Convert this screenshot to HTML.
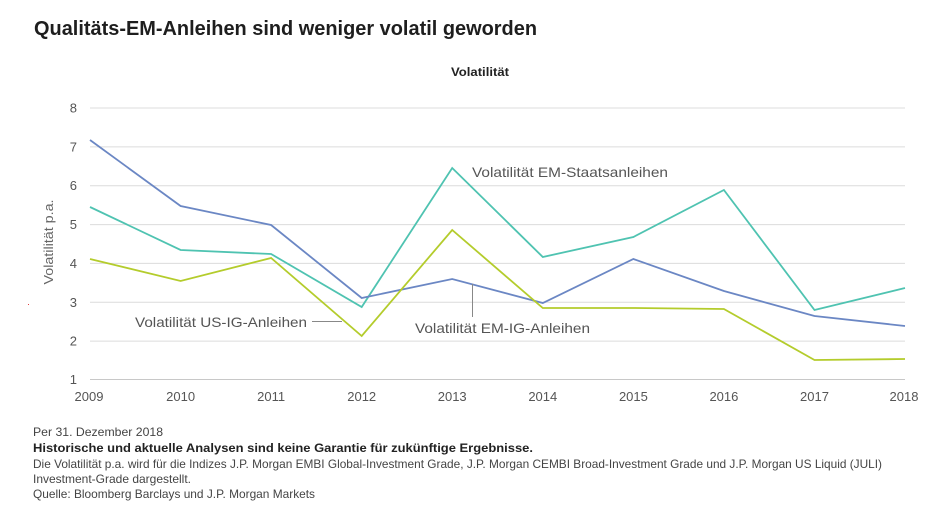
<!DOCTYPE html>
<html>
<head>
<meta charset="utf-8">
<style>
  html,body{margin:0;padding:0;background:#fff;}
  svg{display:block;}
  text{font-family:"Liberation Sans",sans-serif;}
</style>
</head>
<body>
<svg width="950" height="514" viewBox="0 0 950 514" xmlns="http://www.w3.org/2000/svg">
  <rect width="950" height="514" fill="#fff"/>
  <!-- Title -->
  <text x="34" y="35" font-size="20" font-weight="bold" fill="#1e1e1e" textLength="503" lengthAdjust="spacingAndGlyphs">Qualitäts-EM-Anleihen sind weniger volatil geworden</text>
  <text x="480" y="76" font-size="12" font-weight="bold" fill="#222" text-anchor="middle" textLength="58" lengthAdjust="spacingAndGlyphs">Volatilität</text>

  <!-- Gridlines -->
  <g stroke="#dcdcdc" stroke-width="1">
    <line x1="90" y1="108" x2="905" y2="108"/>
    <line x1="90" y1="146.9" x2="905" y2="146.9"/>
    <line x1="90" y1="185.7" x2="905" y2="185.7"/>
    <line x1="90" y1="224.6" x2="905" y2="224.6"/>
    <line x1="90" y1="263.4" x2="905" y2="263.4"/>
    <line x1="90" y1="302.3" x2="905" y2="302.3"/>
    <line x1="90" y1="341.1" x2="905" y2="341.1"/>
  </g>
  <line x1="90" y1="379.5" x2="905" y2="379.5" stroke="#c8c8c8" stroke-width="1"/>

  <!-- Y tick labels -->
  <g font-size="13" fill="#555" text-anchor="end">
    <text x="77" y="112.5">8</text>
    <text x="77" y="151.4">7</text>
    <text x="77" y="190.2">6</text>
    <text x="77" y="229.1">5</text>
    <text x="77" y="267.9">4</text>
    <text x="77" y="306.8">3</text>
    <text x="77" y="345.6">2</text>
    <text x="77" y="384">1</text>
  </g>

  <!-- X tick labels -->
  <g font-size="13" fill="#555" text-anchor="middle">
    <text x="89" y="401">2009</text>
    <text x="180.6" y="401">2010</text>
    <text x="271.1" y="401">2011</text>
    <text x="361.7" y="401">2012</text>
    <text x="452.2" y="401">2013</text>
    <text x="542.8" y="401">2014</text>
    <text x="633.4" y="401">2015</text>
    <text x="723.9" y="401">2016</text>
    <text x="814.5" y="401">2017</text>
    <text x="904" y="401">2018</text>
  </g>

  <!-- Y axis title -->
  <text transform="translate(53,242) rotate(-90)" font-size="13" fill="#666" text-anchor="middle" textLength="85" lengthAdjust="spacingAndGlyphs">Volatilität p.a.</text>

  <!-- tiny red mark -->
  <rect x="28" y="304" width="1" height="1" fill="#e04040"/>

  <!-- Series -->
  <polyline fill="none" stroke="#4fc3b1" stroke-width="1.8" stroke-linejoin="miter"
    points="90,207 180.6,250 271.1,254 361.7,307 452.2,168 542.8,257 633.4,237 723.9,190 814.5,310 905,288"/>
  <polyline fill="none" stroke="#6b87c4" stroke-width="1.8" stroke-linejoin="miter"
    points="90,140 180.6,206 271.1,225 361.7,298 452.2,279 542.8,303 633.4,259 723.9,291 814.5,316 905,326"/>
  <polyline fill="none" stroke="#b4cc2c" stroke-width="1.8" stroke-linejoin="miter"
    points="90,259 180.6,281 271.1,258 361.7,336 452.2,230 542.8,308 633.4,308 723.9,309 814.5,360 905,359"/>

  <!-- Annotations -->
  <g font-size="14" fill="#555">
    <text x="472" y="177" textLength="196" lengthAdjust="spacingAndGlyphs">Volatilität EM-Staatsanleihen</text>
    <text x="135" y="327" textLength="172" lengthAdjust="spacingAndGlyphs">Volatilität US-IG-Anleihen</text>
    <text x="415" y="333" textLength="175" lengthAdjust="spacingAndGlyphs">Volatilität EM-IG-Anleihen</text>
  </g>
  <line x1="312" y1="321.5" x2="342" y2="321.5" stroke="#888" stroke-width="1"/>
  <line x1="472.5" y1="284" x2="472.5" y2="317" stroke="#888" stroke-width="1"/>

  <!-- Footer -->
  <g font-size="12" fill="#444">
    <text x="33" y="436" textLength="130" lengthAdjust="spacingAndGlyphs">Per 31. Dezember 2018</text>
    <text x="33" y="452" font-weight="bold" fill="#222" textLength="500" lengthAdjust="spacingAndGlyphs">Historische und aktuelle Analysen sind keine Garantie für zukünftige Ergebnisse.</text>
    <text x="33" y="468" textLength="849" lengthAdjust="spacingAndGlyphs">Die Volatilität p.a. wird für die Indizes J.P. Morgan EMBI Global-Investment Grade, J.P. Morgan CEMBI Broad-Investment Grade und J.P. Morgan US Liquid (JULI)</text>
    <text x="33" y="483" textLength="158" lengthAdjust="spacingAndGlyphs">Investment-Grade dargestellt.</text>
    <text x="33" y="498" textLength="282" lengthAdjust="spacingAndGlyphs">Quelle: Bloomberg Barclays und J.P. Morgan Markets</text>
  </g>
</svg>
</body>
</html>
